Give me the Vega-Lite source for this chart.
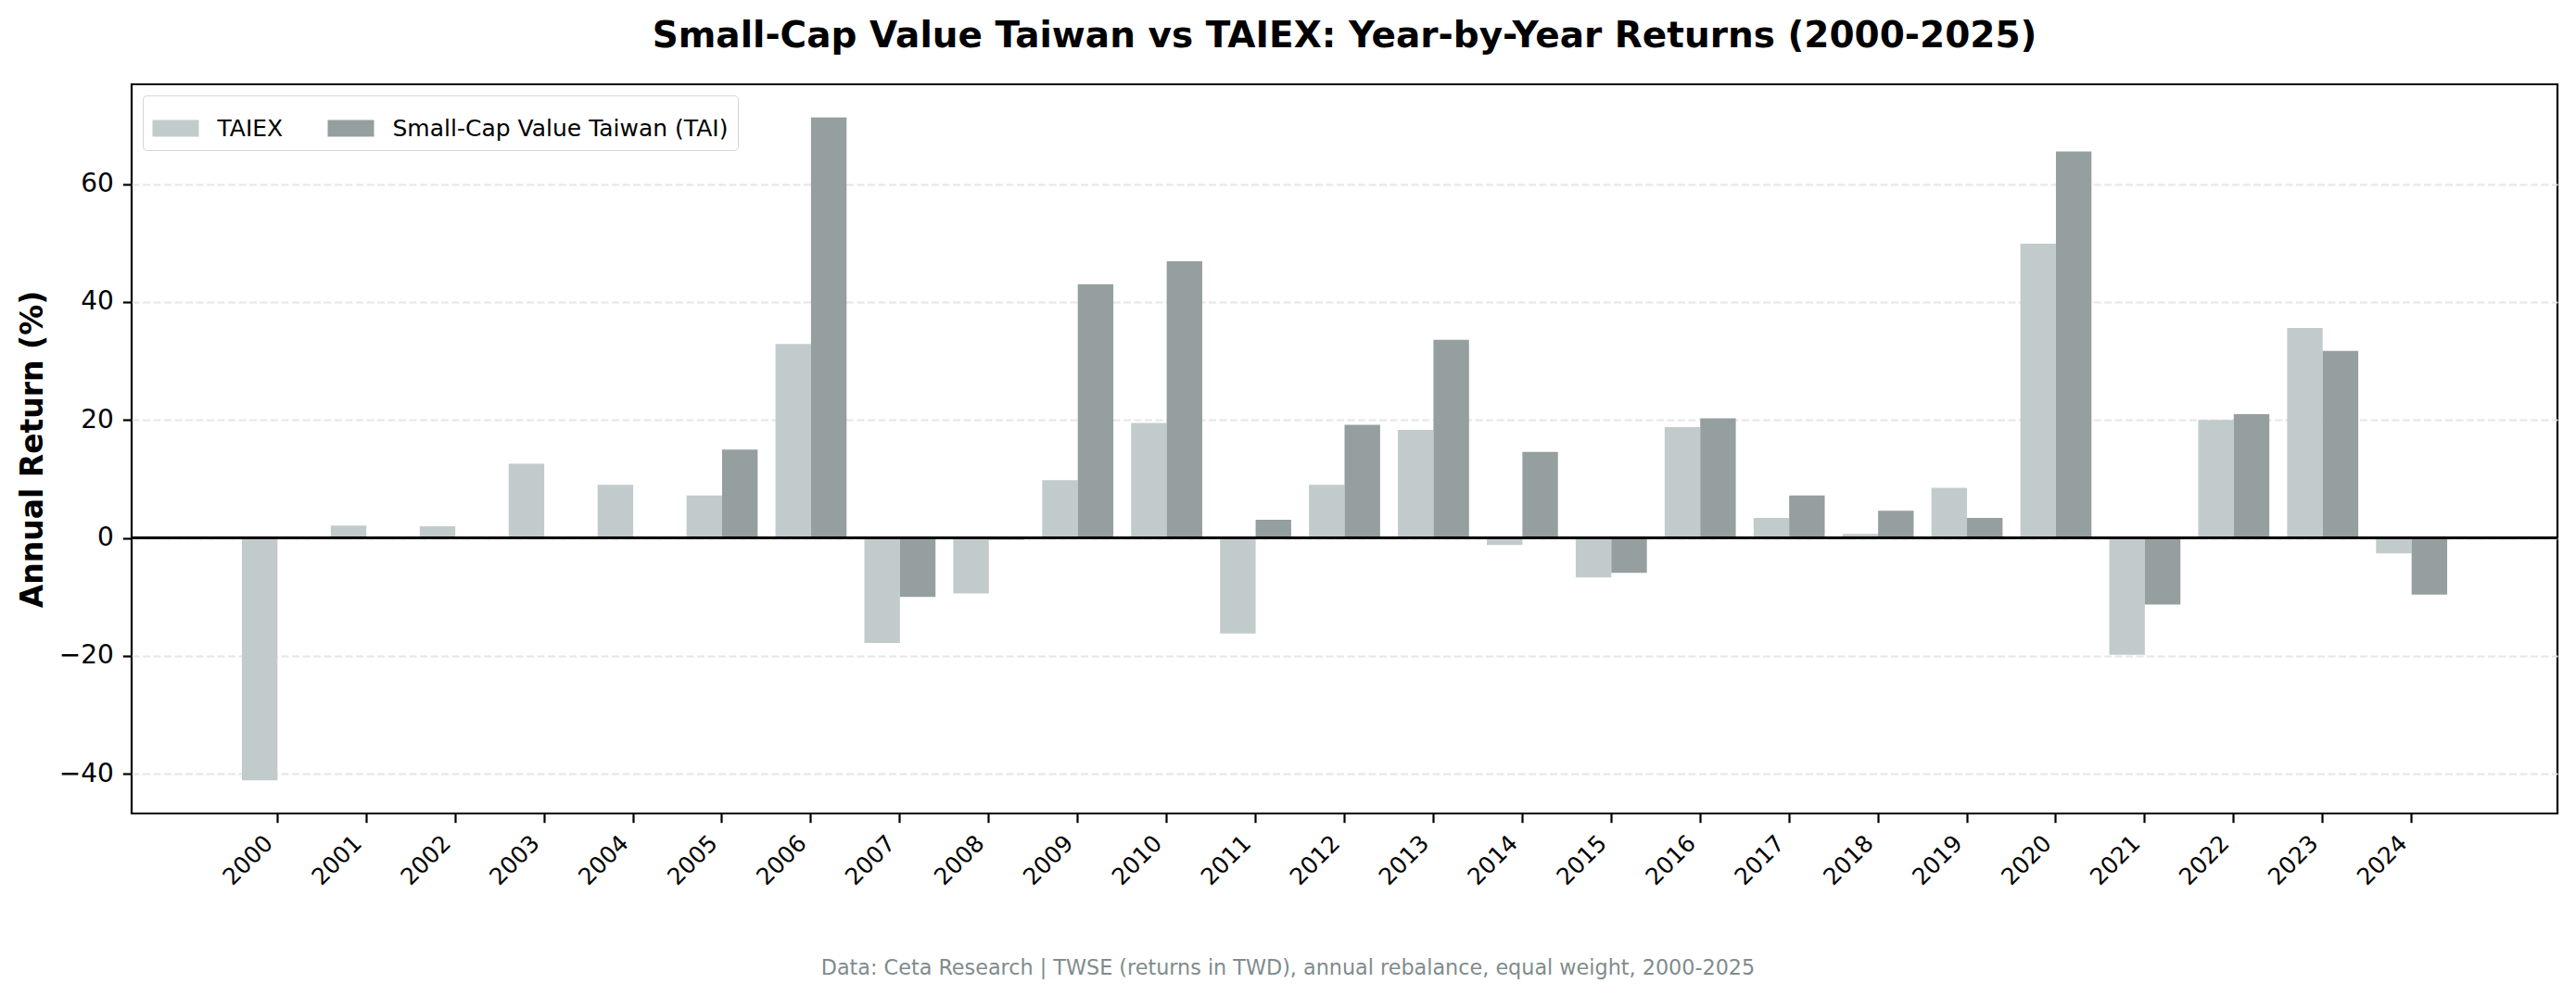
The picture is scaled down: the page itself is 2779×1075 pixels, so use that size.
{
  "$schema": "https://vega.github.io/schema/vega-lite/v6.json",
  "autosize": {"type": "none"},
  "padding": {"left": 142, "top": 91, "right": 20, "bottom": 197},
  "width": 2617,
  "height": 787,
  "background": "white",
  "title": {
    "text": "Small-Cap Value Taiwan vs TAIEX: Year-by-Year Returns (2000-2025)",
    "fontSize": 39,
    "fontWeight": "bold",
    "color": "black",
    "anchor": "middle",
    "frame": "group",
    "offset": 32
  },
  "data": {
    "values": [
      {"year": "2000", "series": "TAIEX", "ret": -41.1},
      {"year": "2001", "series": "TAIEX", "ret": 2.1},
      {"year": "2002", "series": "TAIEX", "ret": 2.0},
      {"year": "2003", "series": "TAIEX", "ret": 12.6},
      {"year": "2004", "series": "TAIEX", "ret": 9.0},
      {"year": "2005", "series": "TAIEX", "ret": 7.2},
      {"year": "2005", "series": "Small-Cap Value Taiwan (TAI)", "ret": 15.0},
      {"year": "2006", "series": "TAIEX", "ret": 32.9},
      {"year": "2006", "series": "Small-Cap Value Taiwan (TAI)", "ret": 71.3},
      {"year": "2007", "series": "TAIEX", "ret": -17.8},
      {"year": "2007", "series": "Small-Cap Value Taiwan (TAI)", "ret": -10.0},
      {"year": "2008", "series": "TAIEX", "ret": -9.4},
      {"year": "2008", "series": "Small-Cap Value Taiwan (TAI)", "ret": -0.3},
      {"year": "2009", "series": "TAIEX", "ret": 9.8},
      {"year": "2009", "series": "Small-Cap Value Taiwan (TAI)", "ret": 43.0},
      {"year": "2010", "series": "TAIEX", "ret": 19.5},
      {"year": "2010", "series": "Small-Cap Value Taiwan (TAI)", "ret": 46.9},
      {"year": "2011", "series": "TAIEX", "ret": -16.2},
      {"year": "2011", "series": "Small-Cap Value Taiwan (TAI)", "ret": 3.1},
      {"year": "2012", "series": "TAIEX", "ret": 9.0},
      {"year": "2012", "series": "Small-Cap Value Taiwan (TAI)", "ret": 19.2},
      {"year": "2013", "series": "TAIEX", "ret": 18.3},
      {"year": "2013", "series": "Small-Cap Value Taiwan (TAI)", "ret": 33.6},
      {"year": "2014", "series": "TAIEX", "ret": -1.2},
      {"year": "2014", "series": "Small-Cap Value Taiwan (TAI)", "ret": 14.6},
      {"year": "2015", "series": "TAIEX", "ret": -6.7},
      {"year": "2015", "series": "Small-Cap Value Taiwan (TAI)", "ret": -5.9},
      {"year": "2016", "series": "TAIEX", "ret": 18.8},
      {"year": "2016", "series": "Small-Cap Value Taiwan (TAI)", "ret": 20.3},
      {"year": "2017", "series": "TAIEX", "ret": 3.4},
      {"year": "2017", "series": "Small-Cap Value Taiwan (TAI)", "ret": 7.2},
      {"year": "2018", "series": "TAIEX", "ret": 0.7},
      {"year": "2018", "series": "Small-Cap Value Taiwan (TAI)", "ret": 4.6},
      {"year": "2019", "series": "TAIEX", "ret": 8.5},
      {"year": "2019", "series": "Small-Cap Value Taiwan (TAI)", "ret": 3.4},
      {"year": "2020", "series": "TAIEX", "ret": 49.9},
      {"year": "2020", "series": "Small-Cap Value Taiwan (TAI)", "ret": 65.5},
      {"year": "2021", "series": "TAIEX", "ret": -19.8},
      {"year": "2021", "series": "Small-Cap Value Taiwan (TAI)", "ret": -11.3},
      {"year": "2022", "series": "TAIEX", "ret": 20.0},
      {"year": "2022", "series": "Small-Cap Value Taiwan (TAI)", "ret": 21.0},
      {"year": "2023", "series": "TAIEX", "ret": 35.6},
      {"year": "2023", "series": "Small-Cap Value Taiwan (TAI)", "ret": 31.7},
      {"year": "2024", "series": "TAIEX", "ret": -2.6},
      {"year": "2024", "series": "Small-Cap Value Taiwan (TAI)", "ret": -9.6}
    ]
  },
  "layer": [
    {
      "mark": {"type": "bar"},
      "encoding": {
        "x": {
          "field": "year",
          "type": "ordinal",
          "scale": {
            "domain": ["pad0", "2000", "2001", "2002", "2003", "2004", "2005", "2006", "2007", "2008", "2009", "2010", "2011", "2012", "2013", "2014", "2015", "2016", "2017", "2018", "2019", "2020", "2021", "2022", "2023", "2024", "pad1"],
            "paddingInner": 0.2,
            "paddingOuter": 0.24
          },
          "axis": {
            "values": ["2000", "2001", "2002", "2003", "2004", "2005", "2006", "2007", "2008", "2009", "2010", "2011", "2012", "2013", "2014", "2015", "2016", "2017", "2018", "2019", "2020", "2021", "2022", "2023", "2024"],
            "title": "Data: Ceta Research | TWSE (returns in TWD), annual rebalance, equal weight, 2000-2025",
            "titleFontSize": 22.3,
            "titleFontWeight": "normal",
            "titleColor": "#7f8c8d",
            "titleX": 1247,
            "titleY": 173,
            "titleAlign": "center",
            "titleBaseline": "alphabetic",
            "titleLimit": 2000,
            "labelAngle": -45,
            "labelAlign": "right",
            "labelBaseline": "bottom",
            "labelFontSize": 25,
            "labelColor": "black",
            "labelPadding": 27,
            "labelOverlap": false,
            "tickSize": 9.7,
            "tickWidth": 2.2,
            "tickColor": "black",
            "domain": false,
            "grid": false
          }
        },
        "xOffset": {
          "field": "series",
          "type": "nominal",
          "scale": {"domain": ["TAIEX", "Small-Cap Value Taiwan (TAI)"], "paddingInner": 0, "paddingOuter": 0}
        },
        "y": {
          "field": "ret",
          "type": "quantitative",
          "scale": {"domain": [-46.7, 76.9], "nice": false, "zero": false},
          "axis": {
            "title": "Annual Return (%)",
            "titleFontSize": 33,
            "titleFontWeight": "bold",
            "titleColor": "black",
            "titleX": -97,
            "titleBaseline": "alphabetic",
            "values": [-40, -20, 0, 20, 40, 60],
            "labelFontSize": 28,
            "labelColor": "black",
            "labelPadding": 10,
            "tickSize": 9.7,
            "tickWidth": 2.2,
            "tickColor": "black",
            "domain": false,
            "grid": true,
            "gridColor": "#e6e6e6",
            "gridWidth": 2.2,
            "gridDash": [8, 3.5]
          }
        },
        "color": {
          "field": "series",
          "type": "nominal",
          "scale": {"domain": ["TAIEX", "Small-Cap Value Taiwan (TAI)"], "range": ["#c2cbcb", "#959f9f"]},
          "legend": {
            "title": null,
            "orient": "top-left",
            "direction": "horizontal",
            "offset": 12,
            "padding": 10.5,
            "fillColor": "white",
            "strokeColor": "#d5d5d5",
            "cornerRadius": 4,
            "symbolType": "M-1,-0.36H1V0.36H-1Z",
            "symbolSize": 2500,
            "symbolStrokeWidth": 0,
            "symbolOpacity": 1,
            "labelFontSize": 25,
            "labelColor": "black",
            "labelOffset": 20,
            "labelLimit": 800,
            "columnPadding": 48
          }
        }
      }
    },
    {
      "mark": {"type": "rule", "color": "black", "strokeWidth": 1.6},
      "encoding": {"y": {"datum": 0}}
    }
  ],
  "config": {
    "font": "DejaVu Sans",
    "view": {"stroke": "black", "strokeWidth": 2.2}
  }
}
